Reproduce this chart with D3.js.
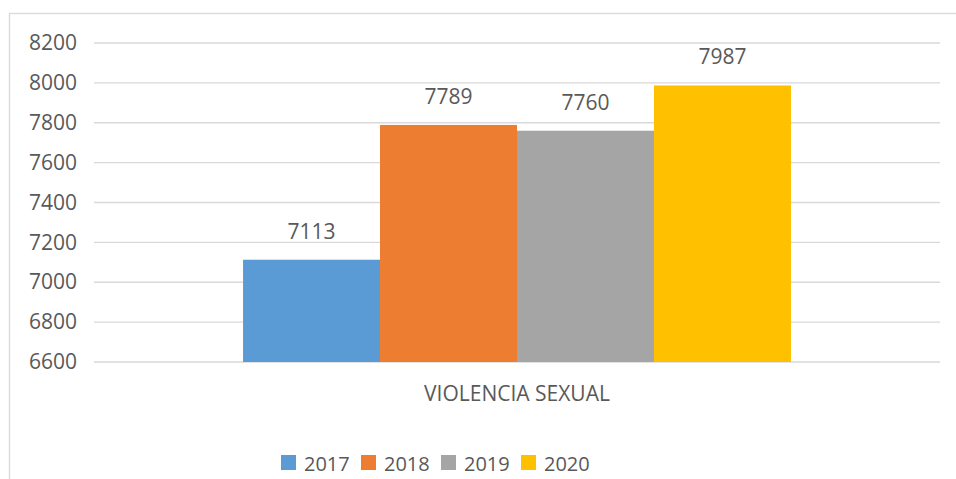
<!DOCTYPE html>
<html>
<head>
<meta charset="utf-8">
<script src="https://cdn.jsdelivr.net/npm/d3@7"></script>
<style>
  body { margin: 0; background: #fff; }
  svg { display: block; font-family: "Open Sans", sans-serif; }
</style>
</head>
<body>
<svg id="chart" width="956" height="479"></svg>
<script>
var categories = ['VIOLENCIA SEXUAL'];
var years = ['2017', '2018', '2019', '2020'];
var values = [7113, 7789, 7760, 7987];
var colors = ['#5B9BD5', '#ED7D31', '#A5A5A5', '#FFC000'];
var yTicks = [6600, 6800, 7000, 7200, 7400, 7600, 7800, 8000, 8200];

var width = 956, height = 479;
var plot = {left: 94, right: 940, top: 43, bottom: 362};
var textColor = '#595959';
var gridColor = '#d9d9d9';

var svg = d3.select('#chart');

// outer chart border (right/bottom run off the page)
svg.append('rect')
  .attr('x', 9.5).attr('y', 13.5)
  .attr('width', 980).attr('height', 500)
  .attr('fill', 'none')
  .attr('stroke', gridColor)
  .attr('stroke-width', 1.3);

var y = d3.scaleLinear().domain([6600, 8200]).range([plot.bottom, plot.top]);

var x0 = d3.scaleBand().domain(categories)
  .range([plot.left, plot.right])
  .paddingInner(0).paddingOuter(0.272);

var x1 = d3.scaleBand().domain(years)
  .range([0, x0.bandwidth()])
  .padding(0);

// gridlines
svg.append('g').selectAll('line').data(yTicks).enter().append('line')
  .attr('x1', plot.left).attr('x2', plot.right)
  .attr('y1', function(d) { return y(d); })
  .attr('y2', function(d) { return y(d); })
  .attr('stroke', gridColor)
  .attr('stroke-width', 1.3);

// y axis labels
var yAxis = d3.axisLeft(y).tickValues(yTicks).tickFormat(d3.format('d')).tickSize(0).tickPadding(17);
var yg = svg.append('g').attr('transform', 'translate(' + plot.left + ',0)').call(yAxis);
yg.select('.domain').remove();
yg.selectAll('text').attr('fill', textColor).style('font-size', '21px').style('font-family', '"Open Sans", sans-serif');

var rows = years.map(function(yr, i) { return {year: yr, value: values[i], color: colors[i]}; });

var group = svg.append('g').attr('transform', 'translate(' + x0(categories[0]) + ',0)');

group.selectAll('rect').data(rows).enter().append('rect')
  .attr('x', function(d) { return x1(d.year); })
  .attr('y', function(d) { return y(d.value); })
  .attr('width', x1.bandwidth())
  .attr('height', function(d) { return plot.bottom - y(d.value); })
  .attr('fill', function(d) { return d.color; });

group.selectAll('text.lbl').data(rows).enter().append('text')
  .attr('class', 'lbl')
  .attr('x', function(d) { return x1(d.year) + x1.bandwidth() / 2; })
  .attr('y', function(d) { return y(d.value) - 21; })
  .attr('text-anchor', 'middle')
  .attr('fill', textColor)
  .style('font-size', '21px')
  .text(function(d) { return d.value; });

// category label
svg.append('text')
  .attr('x', x0(categories[0]) + x0.bandwidth() / 2)
  .attr('y', 401)
  .attr('text-anchor', 'middle')
  .attr('fill', textColor)
  .style('font-size', '21px')
  .text(categories[0]);

// legend
var legend = svg.append('g').attr('transform', 'translate(281,455)');
var item = legend.selectAll('g').data(rows).enter().append('g')
  .attr('transform', function(d, i) { return 'translate(' + (i * 80) + ',0)'; });
item.append('rect')
  .attr('width', 15).attr('height', 15)
  .attr('fill', function(d) { return d.color; });
item.append('text')
  .attr('x', 23).attr('y', 15.5)
  .attr('fill', textColor)
  .style('font-size', '20px')
  .text(function(d) { return d.year; });
</script>
</body>
</html>
